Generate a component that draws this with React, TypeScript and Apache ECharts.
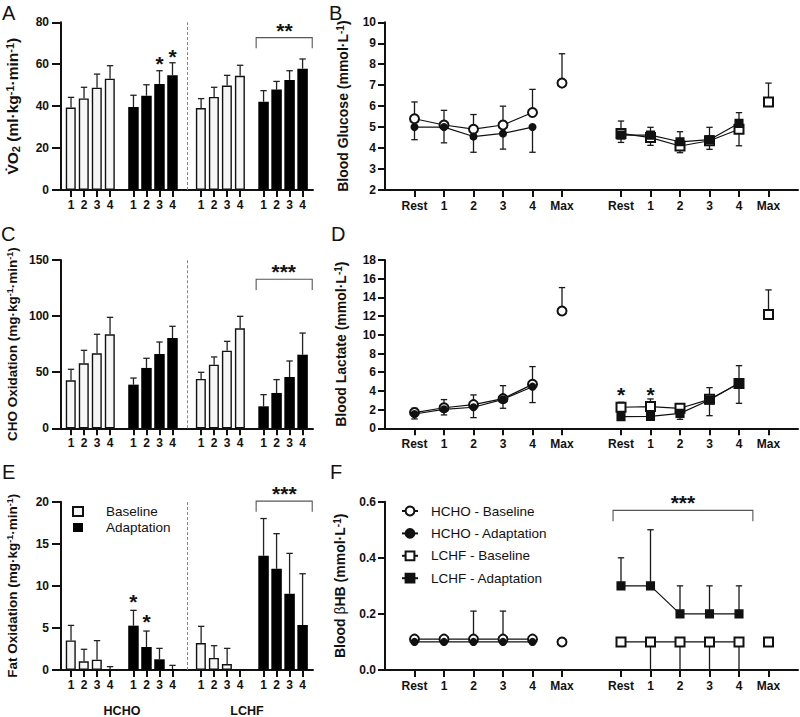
import React, { useEffect, useRef } from 'react';
import * as echarts from 'echarts';

const FONT = '"Liberation Sans", Arial, Helvetica, sans-serif';
const INK = '#111111';

// ---------------- labels ----------------
const stageLabels = ['1', '2', '3', '4'];
const timeLabels = ['Rest', '1', '2', '3', '4', 'Max'];
const groupLabels = ['HCHO', 'LCHF'];
const barLegend = ['Baseline', 'Adaptation'];
const lineLegend = ['HCHO - Baseline', 'HCHO - Adaptation', 'LCHF - Baseline', 'LCHF - Adaptation'];
const panelLetters = ['A', 'B', 'C', 'D', 'E', 'F'];

// ---------------- A: VO2 (ml·kg-1·min-1) ----------------
const vo2HchoBase = [39.3, 43.7, 48.8, 53.1];
const vo2HchoBaseSd = [4.9, 5.3, 6.5, 6.2];
const vo2HchoAdapt = [39.6, 45.0, 50.6, 54.8];
const vo2HchoAdaptSd = [5.6, 5.2, 6.3, 5.9];
const vo2LchfBase = [39.1, 44.4, 49.8, 54.5];
const vo2LchfBaseSd = [4.5, 4.6, 4.9, 5.0];
const vo2LchfAdapt = [42.1, 47.9, 52.5, 57.9];
const vo2LchfAdaptSd = [5.3, 3.9, 4.4, 4.6];

// ---------------- C: CHO oxidation ----------------
const choHchoBase = [42.8, 57.9, 66.8, 83.8];
const choHchoBaseSd = [9.8, 11.6, 17.0, 15.1];
const choHchoAdapt = [38.9, 53.8, 66.2, 80.5];
const choHchoAdaptSd = [5.9, 8.6, 10.7, 10.4];
const choLchfBase = [44.0, 56.7, 69.2, 89.1];
const choLchfBaseSd = [5.9, 6.9, 8.3, 10.7];
const choLchfAdapt = [19.6, 31.5, 45.7, 65.6];
const choLchfAdaptSd = [10.4, 11.9, 14.3, 19.3];

// ---------------- E: Fat oxidation ----------------
const fatHchoBase = [3.52, 1.03, 1.23, 0.05];
const fatHchoBaseSd = [1.78, 1.43, 2.26, 0.35];
const fatHchoAdapt = [5.27, 2.73, 1.27, 0.12];
const fatHchoAdaptSd = [1.82, 1.9, 1.3, 0.43];
const fatLchfBase = [3.2, 1.43, 0.71, 0];
const fatLchfBaseSd = [1.99, 1.46, 1.86, 0];
const fatLchfAdapt = [13.58, 12.03, 9.06, 5.35];
const fatLchfAdaptSd = [4.42, 4.17, 4.8, 6.09];

// ---------------- B: Blood glucose ----------------
const gluHchoBase = [5.4, 5.1, 4.9, 5.1, 5.7, 7.1];
const gluHchoBaseSdUp = [0.8, 0.7, 0.7, 0.9, 1.1, 1.4];
const gluHchoAdapt = [5.0, 5.0, 4.55, 4.7, 5.0];
const gluHchoAdaptSdDown = [0.6, 0.75, 0.75, 0.75, 1.2];
const gluLchfBase = [4.7, 4.5, 4.1, 4.35, 4.9, 6.2];
const gluLchfBaseSdUp = [0, 0, 0, 0, 0, 0.9];
const gluLchfBaseSdDown = [0.43, 0.37, 0.32, 0.41, 0.79, 0];
const gluLchfAdapt = [4.62, 4.62, 4.3, 4.4, 5.18];
const gluLchfAdaptSdUp = [0.67, 0.37, 0.48, 0.59, 0.51];

// ---------------- D: Blood lactate ----------------
const lacHchoBase = [1.68, 2.2, 2.53, 3.17, 4.7, 12.55];
const lacHchoBaseSdUp = [0.46, 0.87, 1.04, 1.39, 1.9, 2.5];
const lacHchoAdapt = [1.53, 2.03, 2.25, 3.1, 4.45];
const lacHchoAdaptSdDown = [0.53, 0.6, 1.11, 0.96, 1.7];
const lacLchfBase = [2.25, 2.32, 2.14, 3.1, 4.8, 12.16];
const lacLchfBaseSdUp = [0.53, 0.82, 0.36, 1.25, 1.9, 2.64];
const lacLchfAdapt = [1.25, 1.28, 1.6, 3.03, 4.85];
const lacLchfAdaptSdDown = [0, 0, 0.64, 1.68, 2.18];

// ---------------- F: Blood βHB ----------------
const bhbHchoBase = [0.11, 0.11, 0.11, 0.11, 0.11, 0.1];
const bhbHchoBaseSdUp = [0, 0, 0.1, 0.1, 0, 0];
const bhbHchoAdapt = [0.1, 0.1, 0.1, 0.1, 0.1];
const bhbLchfBase = [0.1, 0.1, 0.1, 0.1, 0.1, 0.1];
const bhbLchfBaseSdDown = [0, 0.1, 0.1, 0.1, 0.1, 0];
const bhbLchfAdapt = [0.3, 0.3, 0.2, 0.2, 0.2];
const bhbLchfAdaptSdUp = [0.1, 0.2, 0.1, 0.1, 0.1];

// ---------------- significance annotations (data coords) ----------------
const vo2Stars = [[6.8, 62.7, '*'], [7.8, 65.9, '*'], [16.4, 78.4, '**']];
const vo2Bracket = [14.23, 18.54, 72.7, 67.6];
const choStars = [[16.35, 143.8, '***']];
const choBracket = [14.23, 18.54, 132.8, 123.3];
const fatStars = [[4.8, 8.7, '*'], [5.8, 6.33, '*'], [16.4, 21.6, '***']];
const fatBracket = [14.23, 18.54, 20.07, 18.8];
const lacStars = [[7, 4.1, '*'], [8, 4.1, '*']];
const bhbStars = [[9.1, 0.614, '***']];
const bhbBracket = [6.73, 11.47, 0.569, 0.53];

// ---------------- layout ----------------
const BAR_GROUP_X = [[0, 1, 2, 3], [4.8, 5.8, 6.8, 7.8], [10, 11, 12, 13], [14.8, 15.8, 16.8, 17.8]];
const BAR_TICKS = BAR_GROUP_X.flat();
const DIVIDER_X = 8.92;
const HCHO_X = [0, 1, 2, 3, 4, 5];
const LCHF_X = [7, 8, 9, 10, 11, 12];
const TIME_TICKS = [...HCHO_X, ...LCHF_X];

const GRIDS = [
  { left: 61, top: 22.3, width: 252, height: 167.7 },
  { left: 385, top: 22.3, width: 413, height: 167.7 },
  { left: 61, top: 260, width: 252, height: 168.3 },
  { left: 385, top: 260, width: 413, height: 168.3 },
  { left: 61, top: 501.7, width: 252, height: 168.3 },
  { left: 385, top: 501.7, width: 413, height: 168.3 },
];

function richName(size: number) {
  const base = { fontFamily: FONT, fontWeight: 'bold', color: INK };
  return {
    b: { ...base, fontSize: size, lineHeight: size + 1 },
    sup: { ...base, fontSize: Math.round(size * 0.68), verticalAlign: 'top' },
    sub: { ...base, fontSize: Math.round(size * 0.68), verticalAlign: 'bottom' },
    g: { ...base, fontWeight: 'normal', fontSize: size, lineHeight: size + 1 },
  };
}

const axisLine = { show: true, onZero: false, lineStyle: { color: INK, width: 2 } };
const TICK_FONT = 12;

function barXAxis(gi: number) {
  return {
    type: 'value', gridIndex: gi, min: -0.77, max: 18.6,
    axisLine,
    axisTick: { show: true, customValues: BAR_TICKS, length: 7, lineStyle: { color: INK, width: 2 } },
    axisLabel: {
      customValues: BAR_TICKS, margin: 9, fontFamily: FONT, fontWeight: 'bold', fontSize: TICK_FONT, color: INK,
      formatter: (v: number) => {
        const i = BAR_TICKS.findIndex((t) => Math.abs(t - v) < 1e-6);
        return i < 0 ? '' : stageLabels[i % 4];
      },
    },
    splitLine: { show: false },
  };
}

function timeXAxis(gi: number) {
  return {
    type: 'value', gridIndex: gi, min: -1, max: 13,
    axisLine,
    axisTick: { show: true, customValues: TIME_TICKS, length: 7, lineStyle: { color: INK, width: 2 } },
    axisLabel: {
      customValues: TIME_TICKS, margin: 10, fontFamily: FONT, fontWeight: 'bold', fontSize: TICK_FONT, color: INK,
      formatter: (v: number) => {
        const i = TIME_TICKS.findIndex((t) => Math.abs(t - v) < 1e-6);
        return i < 0 ? '' : timeLabels[i % 6];
      },
    },
    splitLine: { show: false },
  };
}

function yAxis(gi: number, min: number, max: number, interval: number, name: string, nameGap: number, nameSize: number, tickLen: number, margin: number, digits = 0) {
  return {
    type: 'value', gridIndex: gi, min, max, interval,
    axisLine,
    axisTick: { show: true, length: tickLen, lineStyle: { color: INK, width: 2 } },
    axisLabel: {
      margin, fontFamily: FONT, fontWeight: 'bold', fontSize: TICK_FONT, color: INK,
      formatter: (v: number) => v.toFixed(digits),
    },
    splitLine: { show: false },
    name, nameLocation: 'middle', nameRotate: 90, nameGap,
    nameTextStyle: { rich: richName(nameSize) },
  };
}

function errSeries(gi: number, items: number[][], color = '#222') {
  return {
    type: 'custom', xAxisIndex: gi, yAxisIndex: gi, data: items, z: 2, silent: true, clip: false,
    renderItem: (_p: any, api: any) => {
      const x = api.value(0), a = api.value(1), b = api.value(2);
      const p1 = api.coord([x, a]);
      const p2 = api.coord([x, b]);
      const cw = 3.2;
      const st = { stroke: color, lineWidth: 1.3 };
      return {
        type: 'group', children: [
          { type: 'line', shape: { x1: p1[0], y1: p1[1], x2: p2[0], y2: p2[1] }, style: st },
          { type: 'line', shape: { x1: p2[0] - cw, y1: p2[1], x2: p2[0] + cw, y2: p2[1] }, style: st },
        ],
      };
    },
  };
}

function starSeries(gi: number, stars: any[]) {
  return {
    type: 'custom', xAxisIndex: gi, yAxisIndex: gi, data: stars.map((s) => [s[0], s[1]]), z: 5, silent: true, clip: false,
    renderItem: (p: any, api: any) => {
      const c = api.coord([api.value(0), api.value(1)]);
      return {
        type: 'text', x: c[0], y: c[1] + 5,
        style: { text: stars[p.dataIndex][2], fontSize: 21, fontWeight: 'bold', fontFamily: FONT, fill: INK, align: 'center', verticalAlign: 'middle' },
      };
    },
  };
}

function bracketSeries(gi: number, br: number[]) {
  return {
    type: 'custom', xAxisIndex: gi, yAxisIndex: gi, data: [br], z: 5, silent: true, clip: false,
    renderItem: (_p: any, api: any) => {
      const a = api.coord([api.value(0), api.value(3)]);
      const b = api.coord([api.value(0), api.value(2)]);
      const c = api.coord([api.value(1), api.value(2)]);
      const d = api.coord([api.value(1), api.value(3)]);
      return {
        type: 'polyline', shape: { points: [a, b, c, d] },
        style: { stroke: '#555', lineWidth: 1.1, fill: 'none' },
      };
    },
  };
}

function barPanel(gi: number, hb: number[], hbSd: number[], ha: number[], haSd: number[], lb: number[], lbSd: number[], la: number[], laSd: number[]) {
  const base = [...hb.map((v, i) => [BAR_GROUP_X[0][i], v]), ...lb.map((v, i) => [BAR_GROUP_X[2][i], v])];
  const adapt = [...ha.map((v, i) => [BAR_GROUP_X[1][i], v]), ...la.map((v, i) => [BAR_GROUP_X[3][i], v])];
  const errs: number[][] = [];
  const sets: [number[], number[], number][] = [[hb, hbSd, 0], [ha, haSd, 1], [lb, lbSd, 2], [la, laSd, 3]];
  sets.forEach(([vals, sds, g]) => vals.forEach((v, i) => { if (sds[i] > 0) errs.push([BAR_GROUP_X[g][i], v, v + sds[i]]); }));
  return [
    {
      type: 'bar', name: barLegend[0], xAxisIndex: gi, yAxisIndex: gi, data: base, barWidth: 10, barGap: '-100%', z: 3,
      itemStyle: { color: '#f6f6f6', borderColor: INK, borderWidth: 1.4 },
      emphasis: { disabled: true },
      markLine: {
        silent: true, symbol: ['none', 'none'], label: { show: false },
        lineStyle: { type: [3, 2], color: '#888', width: 1 },
        emphasis: { disabled: true },
        data: [{ xAxis: DIVIDER_X }],
      },
    },
    {
      type: 'bar', name: barLegend[1], xAxisIndex: gi, yAxisIndex: gi, data: adapt, barWidth: 10.5, barGap: '-100%', z: 3,
      itemStyle: { color: '#000' }, emphasis: { disabled: true },
    },
    errSeries(gi, errs),
  ];
}

type LineSpec = { name: string; xs: number[]; vals: number[]; up?: number[]; down?: number[]; symbol: string; size: number };

function linePanel(gi: number, specs: LineSpec[]) {
  const errs: number[][] = [];
  const out: any[] = [];
  specs.forEach((s) => {
    s.vals.forEach((v, i) => {
      if (s.up && s.up[i] > 0) errs.push([s.xs[i], v, v + s.up[i]]);
      if (s.down && s.down[i] > 0) errs.push([s.xs[i], v, v - s.down[i]]);
    });
  });
  out.push(errSeries(gi, errs, '#1a1a1a'));
  specs.forEach((s) => {
    const data: any[] = [];
    s.vals.forEach((v, i) => {
      if (i === 5) data.push([s.xs[i] - 0.5, '-']);
      data.push([s.xs[i], v]);
    });
    out.push({
      type: 'line', name: s.name, xAxisIndex: gi, yAxisIndex: gi, data, symbol: s.symbol, symbolSize: s.size,
      showSymbol: true, connectNulls: false, z: 4,
      lineStyle: { color: INK, width: 1.2 },
      itemStyle: { color: INK, borderColor: INK, borderWidth: 1.6 },
      emphasis: { disabled: true },
    });
  });
  return out;
}

function buildOption() {
  const series: any[] = [
    ...barPanel(0, vo2HchoBase, vo2HchoBaseSd, vo2HchoAdapt, vo2HchoAdaptSd, vo2LchfBase, vo2LchfBaseSd, vo2LchfAdapt, vo2LchfAdaptSd),
    starSeries(0, vo2Stars), bracketSeries(0, vo2Bracket),
    ...barPanel(2, choHchoBase, choHchoBaseSd, choHchoAdapt, choHchoAdaptSd, choLchfBase, choLchfBaseSd, choLchfAdapt, choLchfAdaptSd),
    starSeries(2, choStars), bracketSeries(2, choBracket),
    ...barPanel(4, fatHchoBase, fatHchoBaseSd, fatHchoAdapt, fatHchoAdaptSd, fatLchfBase, fatLchfBaseSd, fatLchfAdapt, fatLchfAdaptSd),
    starSeries(4, fatStars), bracketSeries(4, fatBracket),
    ...linePanel(1, [
      { name: lineLegend[0], xs: HCHO_X, vals: gluHchoBase, up: gluHchoBaseSdUp, symbol: 'emptyCircle', size: 9 },
      { name: lineLegend[1], xs: HCHO_X, vals: gluHchoAdapt, down: gluHchoAdaptSdDown, symbol: 'circle', size: 6.5 },
      { name: lineLegend[2], xs: LCHF_X, vals: gluLchfBase, up: gluLchfBaseSdUp, down: gluLchfBaseSdDown, symbol: 'emptyRect', size: 9 },
      { name: lineLegend[3], xs: LCHF_X, vals: gluLchfAdapt, up: gluLchfAdaptSdUp, symbol: 'rect', size: 7.5 },
    ]),
    ...linePanel(3, [
      { name: lineLegend[0], xs: HCHO_X, vals: lacHchoBase, up: lacHchoBaseSdUp, symbol: 'emptyCircle', size: 9 },
      { name: lineLegend[1], xs: HCHO_X, vals: lacHchoAdapt, down: lacHchoAdaptSdDown, symbol: 'circle', size: 6.5 },
      { name: lineLegend[2], xs: LCHF_X, vals: lacLchfBase, up: lacLchfBaseSdUp, symbol: 'emptyRect', size: 9 },
      { name: lineLegend[3], xs: LCHF_X, vals: lacLchfAdapt, down: lacLchfAdaptSdDown, symbol: 'rect', size: 7.5 },
    ]),
    starSeries(3, lacStars),
    ...linePanel(5, [
      { name: lineLegend[0], xs: HCHO_X, vals: bhbHchoBase, up: bhbHchoBaseSdUp, symbol: 'emptyCircle', size: 9 },
      { name: lineLegend[1], xs: HCHO_X, vals: bhbHchoAdapt, symbol: 'circle', size: 6.5 },
      { name: lineLegend[2], xs: LCHF_X, vals: bhbLchfBase, down: bhbLchfBaseSdDown, symbol: 'emptyRect', size: 9 },
      { name: lineLegend[3], xs: LCHF_X, vals: bhbLchfAdapt, up: bhbLchfAdaptSdUp, symbol: 'rect', size: 7.5 },
    ]),
    starSeries(5, bhbStars), bracketSeries(5, bhbBracket),
  ];

  const letterPos = [[2, 3], [329, 3], [1, 224], [331, 224], [2, 461.5], [330, 461.5]];

  return {
    animation: false,
    backgroundColor: '#ffffff',
    grid: GRIDS.map((g) => ({ ...g, containLabel: false, outerBoundsMode: 'none' })),
    xAxis: [barXAxis(0), timeXAxis(1), barXAxis(2), timeXAxis(3), barXAxis(4), timeXAxis(5)],
    yAxis: [
      yAxis(0, 0, 80, 20, '{b|V\u0307O}{sub|2}{b| (ml·kg}{sup|-1}{b|·min}{sup|-1}{b|)}', 40, 15.5, 9, 12),
      yAxis(1, 2, 10, 1, '{b|Blood Glucose (mmol·L}{sup|-1}{b|)}', 35, 14, 7, 9),
      yAxis(2, 0, 150, 50, '{b|CHO Oxidation (mg·kg}{sup|-1}{b|·min}{sup|-1}{b|)}', 41, 13.5, 9, 12),
      yAxis(3, 0, 18, 2, '{b|Blood Lactate (mmol·L}{sup|-1}{b|)}', 37, 14, 7, 9),
      yAxis(4, 0, 20, 5, '{b|Fat Oxidation (mg·kg}{sup|-1}{b|·min}{sup|-1}{b|)}', 41, 13.5, 9, 12),
      yAxis(5, 0, 0.6, 0.2, '{b|Blood }{g|β}{b|HB (mmol·L}{sup|-1}{b|)}', 38, 14, 7, 9, 1),
    ],
    legend: [
      {
        data: barLegend, orient: 'vertical', left: 67, top: 499, itemWidth: 10, itemHeight: 9, itemGap: 1, icon: 'rect',
        selectedMode: false,
        textStyle: { fontFamily: FONT, fontSize: 13.5, color: INK, lineHeight: 15, padding: [0, 0, 0, 18] },
      },
      {
        data: lineLegend, orient: 'vertical', left: 396, top: 498.5, itemWidth: 16, itemHeight: 11, itemGap: 7.4,
        selectedMode: false,
        textStyle: { fontFamily: FONT, fontSize: 13.5, color: INK, lineHeight: 15, padding: [0, 0, 0, 8] },
      },
    ],
    graphic: [
      ...panelLetters.map((t, i) => ({
        type: 'text', left: letterPos[i][0], top: letterPos[i][1],
        style: { text: t, fontFamily: FONT, fontSize: 20, fill: INK },
      })),
      { type: 'text', x: 122, y: 710.5, style: { text: groupLabels[0], fontFamily: FONT, fontWeight: 'bold', fontSize: 12.5, fill: INK, align: 'center', verticalAlign: 'middle' } },
      { type: 'text', x: 247, y: 710.5, style: { text: groupLabels[1], fontFamily: FONT, fontWeight: 'bold', fontSize: 12.5, fill: INK, align: 'center', verticalAlign: 'middle' } },
    ],
    series,
  };
}

export default function App() {
  const ref = useRef<HTMLDivElement>(null);
  useEffect(() => {
    const chart = echarts.init(ref.current as HTMLDivElement, null, { renderer: 'svg' });
    chart.setOption(buildOption() as any);
    return () => chart.dispose();
  }, []);
  return <div ref={ref} style={{ position: 'absolute', left: 0, top: 0, width: 800, height: 717, background: '#fff' }} />;
}
